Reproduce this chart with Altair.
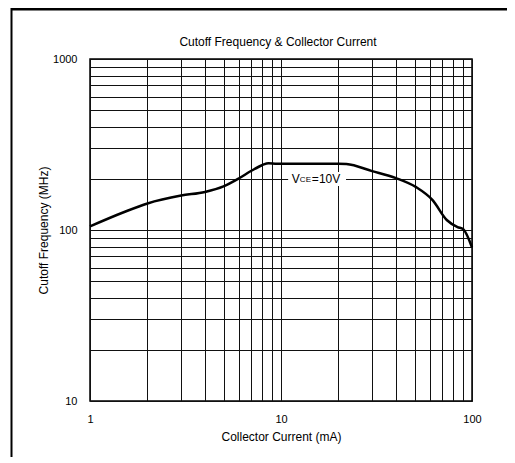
import altair as alt
import pandas as pd

# --- data ---
current_mA = [1, 1.5, 2, 3, 4, 5, 6, 7, 8, 8.6, 9.5, 12, 16, 20, 22, 30, 40, 51, 62, 74, 84, 90, 100]
cutoff_MHz = [105, 127, 143, 159, 167, 180, 200, 222, 240, 246, 244, 244, 244, 244, 243, 221, 201, 178, 150, 114, 104, 101, 79]

x_grid = [1, 2, 3, 4, 5, 6, 7, 8, 9, 10, 20, 30, 40, 50, 60, 70, 80, 90, 100]
y_grid = [10, 20, 30, 40, 50, 60, 70, 80, 90, 100, 200, 300, 400, 500, 600, 700, 800, 900, 1000]

label_box = {"x": [10.9], "x2": [21.9], "y": [181], "y2": [218]}
label_anchor = {"x": [11.4], "y": [200]}
label_parts = ["V", "CE", "=10V"]
chart_title = "Cutoff Frequency & Collector Current"

FONT = "Liberation Sans"

df = pd.DataFrame({"I": current_mA, "f": cutoff_MHz})

xscale = alt.Scale(type="log", domain=[1, 100], nice=False)
yscale = alt.Scale(type="log", domain=[10, 1000], nice=False)

common_axis = dict(grid=True, ticks=False, domain=False, gridColor="#111", gridWidth=1, gridOpacity=1,
                   labelFont=FONT, labelFontSize=11, labelColor="black",
                   titleFont=FONT, titleFontSize=12, titleFontWeight="normal", titleColor="black",
                   labelFlush=False, labelOverlap=False)

xaxis = alt.Axis(values=x_grid,
                 labelExpr="(datum.value == 1 || datum.value == 10 || datum.value == 100) ? format(datum.value, 'd') : ''",
                 title="Collector Current (mA)", labelPadding=12, titlePadding=7, **common_axis)
yaxis = alt.Axis(values=y_grid,
                 labelExpr="(datum.value == 10 || datum.value == 100 || datum.value == 1000) ? format(datum.value, 'd') : ''",
                 title="Cutoff Frequency (MHz)", labelPadding=13, titlePadding=2, **common_axis)

line = alt.Chart(df).mark_line(color="black", strokeWidth=2.5, interpolate="monotone").encode(
    x=alt.X("I:Q", scale=xscale, axis=xaxis),
    y=alt.Y("f:Q", scale=yscale, axis=yaxis),
)

box = alt.Chart(pd.DataFrame(label_box)).mark_rect(color="white").encode(
    x=alt.X("x:Q", scale=xscale), x2="x2:Q",
    y=alt.Y("y:Q", scale=yscale), y2="y2:Q",
)

anc = pd.DataFrame(label_anchor)
t_v = alt.Chart(anc).mark_text(text=label_parts[0], font=FONT, fontSize=12, align="left",
                               baseline="middle", color="black").encode(
    x=alt.X("x:Q", scale=xscale), y=alt.Y("y:Q", scale=yscale))
t_ce = alt.Chart(anc).mark_text(text=label_parts[1], font=FONT, fontSize=8, align="left",
                                baseline="middle", dx=8, dy=1, color="black").encode(
    x=alt.X("x:Q", scale=xscale), y=alt.Y("y:Q", scale=yscale))
t_eq = alt.Chart(anc).mark_text(text=label_parts[2], font=FONT, fontSize=12, align="left",
                                baseline="middle", dx=20, color="black").encode(
    x=alt.X("x:Q", scale=xscale), y=alt.Y("y:Q", scale=yscale))

one = pd.DataFrame({"a": [0]})
title_mark = alt.Chart(one).mark_text(text=chart_title, font=FONT, fontSize=12, align="center",
                                      baseline="middle", color="black").encode(
    x=alt.value(188), y=alt.value(-17))
frame_top = alt.Chart(one).mark_rule(color="black", strokeWidth=3).encode(
    x=alt.value(-79), x2=alt.value(430), y=alt.value(-50))
frame_left = alt.Chart(one).mark_rule(color="black", strokeWidth=2).encode(
    x=alt.value(-78.5), y=alt.value(-51), y2=alt.value(410))

chart = alt.layer(line, box, t_v, t_ce, t_eq, title_mark, frame_top, frame_left).properties(
    width=382, height=342,
    background="white",
    autosize=alt.AutoSizeParams(type="none"),
    padding={"left": 82, "top": 51, "right": 35, "bottom": 56},
).configure_view(stroke="black", strokeWidth=1.5)

chart.save("out.html", embed_options={"renderer": "svg", "actions": False})
